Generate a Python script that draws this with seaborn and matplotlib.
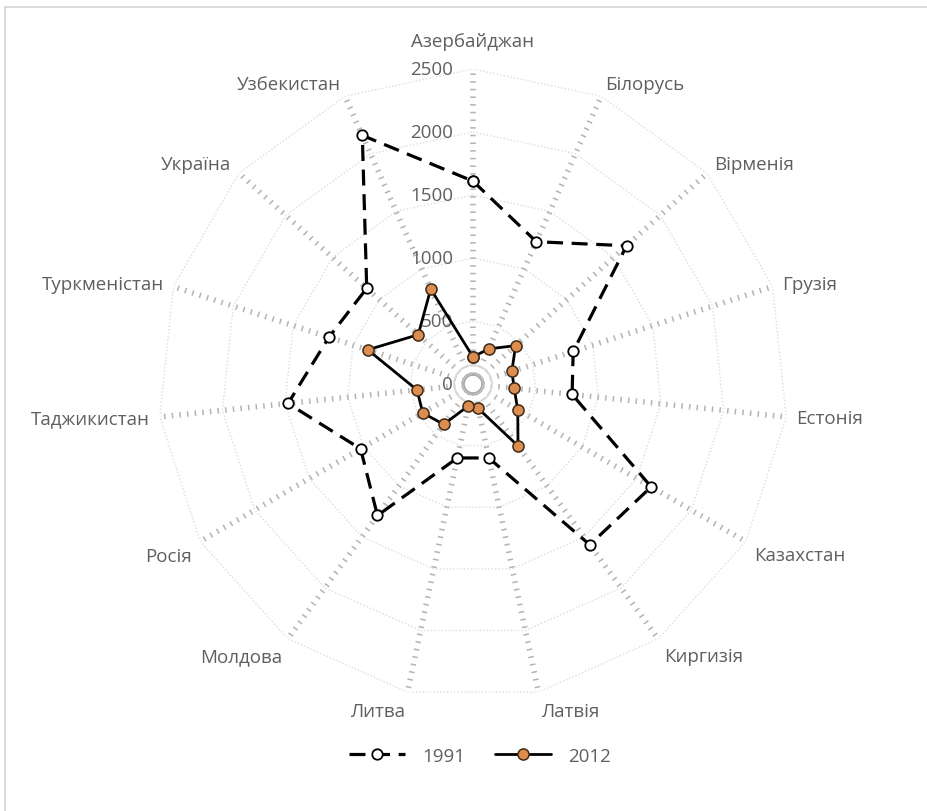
import numpy as np
import pandas as pd
import matplotlib
matplotlib.use("Agg")
import matplotlib.pyplot as plt
from matplotlib.patches import Rectangle
import seaborn as sns

# ---------------- data ----------------
categories = ["Азербайджан", "Білорусь", "Вірменія", "Грузія", "Естонія",
              "Казахстан", "Киргизія", "Латвія", "Литва", "Молдова",
              "Росія", "Таджикистан", "Туркменістан", "Україна", "Узбекистан"]
values_1991 = [1610, 1236, 1640, 836, 791, 1633, 1577, 600, 600, 1290,
               1030, 1476, 1202, 1135, 2160]
values_2012 = [215, 305, 455, 324, 329, 410, 608, 198, 178, 396,
               460, 447, 878, 585, 825]
series_names = ["1991", "2012"]
radial_ticks = [0, 500, 1000, 1500, 2000, 2500]
r_max = 2500

# ---------------- style ----------------
sns.set_theme(style="white")
plt.rcParams["font.family"] = ["Open Sans", "DejaVu Sans"]
TXT = "#5F5F5F"
FS = 13.5

fig = plt.figure(figsize=(9.28, 8.12), dpi=100)
fig.patch.set_facecolor("white")

# chart frame (top and left edges visible, right/bottom cut off)
fig.add_artist(Rectangle((5 / 928, -0.2), 1.2, (812 - 8) / 812 + 0.2,
                         transform=fig.transFigure, fill=False,
                         edgecolor="#D4D4D4", linewidth=1.2))

cx, cy, R = 473, 385, 315
ax = fig.add_axes([(cx - R) / 928, (812 - cy - R) / 812, 2 * R / 928, 2 * R / 812],
                  projection="polar")
ax.set_theta_zero_location("N")
ax.set_theta_direction(-1)
ax.set_facecolor("none")

n = len(categories)
theta = np.arange(n) * 2 * np.pi / n
theta_closed = np.append(theta, 2 * np.pi)

# polygon gridlines
for rv in radial_ticks[1:]:
    ax.plot(theta_closed, [rv] * (n + 1), color="#DCDCDC", linewidth=1.0,
            linestyle=(0, (1, 1.5)), zorder=1)
# spokes
for t in theta:
    ax.plot([t, t], [80, r_max], color="#B4B4B4", linewidth=4.0,
            linestyle=(0, (0.28, 1.1)), zorder=1, solid_capstyle="butt")
# small centre rings
circ = np.linspace(0, 2 * np.pi, 120)
ax.plot(circ, [72] * len(circ), color="#A8A8A8", linewidth=1.3, zorder=1)
ax.plot(circ, [150] * len(circ), color="#DADADA", linewidth=1.3, zorder=1)

# radial labels
for rv in radial_ticks:
    ax.annotate(f"{rv}", xy=(0, rv), xytext=(-20, 0), textcoords="offset pixels",
                ha="right", va="center", fontsize=FS, color=TXT,
                annotation_clip=False, zorder=2)

# data lines
df91 = pd.DataFrame({"theta": theta_closed, "value": values_1991 + values_1991[:1]})
df12 = pd.DataFrame({"theta": theta_closed, "value": values_2012 + values_2012[:1]})

sns.lineplot(data=df91, x="theta", y="value", sort=False, estimator=None, ax=ax,
             color="black", linewidth=2.3, linestyle=(0, (5, 2.7)),
             marker="o", markersize=7.5, markerfacecolor="white",
             markeredgecolor="black", markeredgewidth=1.3,
             label=series_names[0], zorder=4)
sns.lineplot(data=df12, x="theta", y="value", sort=False, estimator=None, ax=ax,
             color="black", linewidth=2.0,
             marker="o", markersize=8, markerfacecolor="#DC8D50",
             markeredgecolor="#3E2A18", markeredgewidth=1.1,
             label=series_names[1], zorder=5)

handles, labels = ax.get_legend_handles_labels()
if ax.get_legend() is not None:
    ax.get_legend().remove()

ax.set_ylim(0, r_max)
ax.set_xticks([])
ax.set_yticks([])
ax.grid(False)
ax.spines["polar"].set_visible(False)
ax.set_xlabel("")
ax.set_ylabel("")

# category labels
for t, lab in zip(theta, categories):
    s, c = np.sin(t), np.cos(t)
    ha = "left" if s > 0.05 else ("right" if s < -0.05 else "center")
    va = "bottom" if c > 0.4 else ("top" if c < -0.4 else "center")
    d = 25 if abs(s) < 0.05 else 10
    dy = d * c
    if va == "bottom":
        dy -= 6
    ax.annotate(lab, xy=(t, r_max), xytext=(d * s, dy), textcoords="offset pixels",
                ha=ha, va=va, fontsize=FS, color=TXT, annotation_clip=False)

leg = fig.legend(handles, labels, loc="center", bbox_to_anchor=(0.517, 1 - 757 / 812),
                 ncol=2, frameon=False, fontsize=FS, handlelength=3.0,
                 handletextpad=0.9, columnspacing=1.6, labelcolor=TXT)

fig.savefig("out.png", dpi=100, facecolor="white")
